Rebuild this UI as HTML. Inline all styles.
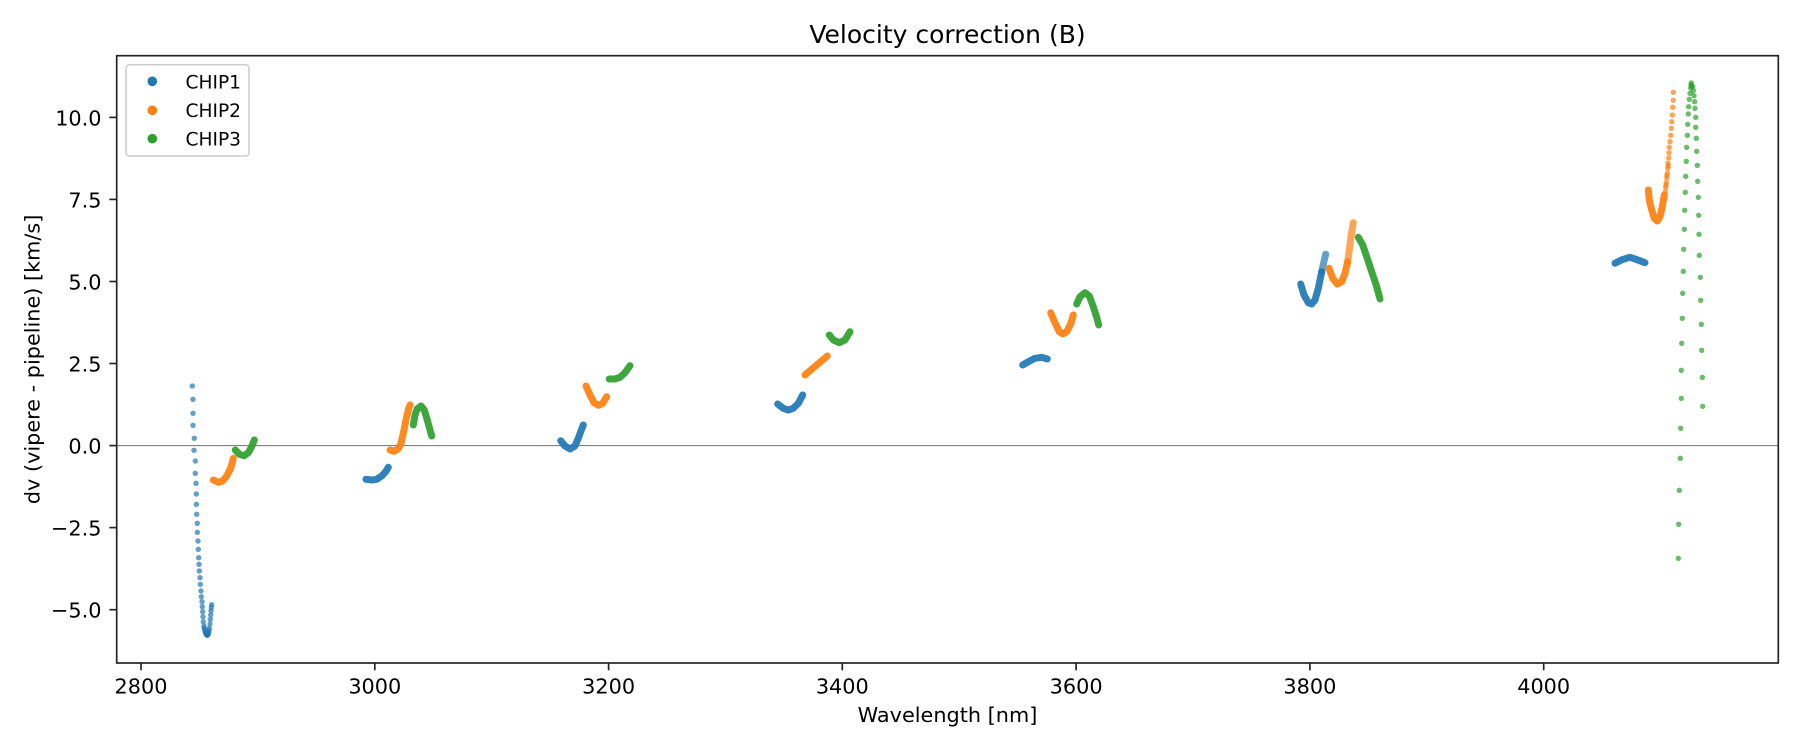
<!DOCTYPE html>
<html>
<head>
<meta charset="utf-8">
<style>
html,body{margin:0;padding:0;background:#fff;}
svg{display:block;}
text{font-family:"DejaVu Sans","Liberation Sans",sans-serif;fill:#000;}
</style>
</head>
<body>
<svg width="1800" height="750" viewBox="0 0 1800 750" xmlns="http://www.w3.org/2000/svg">
<rect x="0" y="0" width="1800" height="750" fill="#fff"/>

<!-- title -->
<text x="947.5" y="43" font-size="25" text-anchor="middle">Velocity correction (B)</text>

<!-- zero line -->
<line x1="116.7" y1="445.6" x2="1778.3" y2="445.6" stroke="#808080" stroke-width="1.1"/>

<!-- dense segments -->
<g fill="none" stroke-width="7" stroke-linecap="round" stroke-linejoin="round" stroke-opacity="0.92">
  <!-- group 1 -->
  <polyline stroke="#ff7f0e" points="213.3,480 218.3,482.3 222.7,481 226.7,476 230.7,468.3 233.3,458.3"/>
  <polyline stroke="#2ca02c" points="235.3,450 239.3,454.3 244,455.7 248.3,452.7 251.7,446.7 254.3,440"/>
  <!-- group 2 -->
  <polyline stroke="#1f77b4" points="366,479.3 371.7,480 376.7,479.3 381.7,476 386,471.3 388.3,467.3"/>
  <polyline stroke="#ff7f0e" points="390,450 394,451.3 398.3,448.7 401,443.3 403.3,433.3 406,420 408.3,410 410,405"/>
  <polyline stroke="#2ca02c" points="413.3,425 415,415 417.3,408.7 421,406 424.3,410 427.3,420 430,430 431.7,436"/>
  <!-- group 3 -->
  <polyline stroke="#1f77b4" points="560.7,440.7 565,446 570,449 575,446 578.3,438.3 580.7,431.7 583.3,425"/>
  <polyline stroke="#ff7f0e" points="586,386 590,395 594,402.7 598.3,405.3 602.7,403.3 606.7,396.7"/>
  <polyline stroke="#2ca02c" points="609.3,379 615,379 620,377.3 625,372.7 630,365.7"/>
  <!-- group 4 -->
  <polyline stroke="#1f77b4" points="777.7,404 783.3,408.3 788.3,410 793.3,408.3 798.3,403.3 802.7,395"/>
  <polyline stroke="#ff7f0e" points="805,375 816.7,365 827.3,356"/>
  <polyline stroke="#2ca02c" points="829.3,335 833.3,340 839.3,342.7 845,340 850,331.7"/>
  <!-- group 5 -->
  <polyline stroke="#1f77b4" points="1022.7,365 1028.3,361.7 1035,358.3 1041.7,357.3 1047.3,359"/>
  <polyline stroke="#ff7f0e" points="1050.7,312.7 1055,322.7 1059.3,331.7 1062.7,334 1066.7,331.7 1070.7,324 1073.3,315"/>
  <polyline stroke="#2ca02c" points="1076.7,304 1080,296.7 1085,292.7 1089.3,296 1093.3,306.7 1096.7,317.3 1098.7,325"/>
  <!-- group 6 -->
  <polyline stroke="#1f77b4" points="1300.7,284 1304,295 1308.3,302.7 1311.7,304 1315,300 1318.3,288.3 1321.7,271.7"/>
  <polyline stroke="#1f77b4" stroke-opacity="0.7" points="1321.7,271.7 1324.3,260 1325.7,254.3"/>
  <polyline stroke="#ff7f0e" points="1329,268.3 1332.7,278.3 1337.3,284 1341.7,281.7 1345,273.3 1347.7,261.7"/>
  <polyline stroke="#ff7f0e" stroke-opacity="0.7" points="1347.7,261.7 1349.3,250 1351,236.7 1353.3,222.7"/>
  <polyline stroke="#2ca02c" points="1358.3,237.3 1362.7,245 1366.7,256.7 1371.7,271.7 1376.7,286.7 1380,299"/>
  <!-- group 7 -->
  <polyline stroke="#1f77b4" points="1615,263.3 1622,259.7 1630,257.3 1637,259.7 1645,262.7"/>
  <polyline stroke="#ff7f0e" points="1648.3,190 1649.3,200 1651.7,210 1654.3,218.3 1657.3,221 1660,216.7 1662.3,206.7 1664.3,195"/>
</g>

<!-- sparse blue dots group 1 -->
<g fill="#1f77b4" fill-opacity="0.7">
<circle cx="192.3" cy="386.0" r="2.7"/><circle cx="193.0" cy="399.3" r="2.7"/><circle cx="193.0" cy="413.3" r="2.7"/>
<circle cx="193.0" cy="425.3" r="2.7"/><circle cx="194.3" cy="438.3" r="2.7"/><circle cx="194.0" cy="450.3" r="2.7"/>
<circle cx="195.3" cy="461.0" r="2.7"/><circle cx="195.3" cy="473.3" r="2.7"/><circle cx="196.0" cy="483.3" r="2.7"/>
<circle cx="196.3" cy="494.0" r="2.7"/><circle cx="196.3" cy="504.3" r="2.7"/><circle cx="196.7" cy="514.3" r="2.7"/>
<circle cx="197.3" cy="523.3" r="2.7"/><circle cx="197.3" cy="532.3" r="2.7"/><circle cx="198.0" cy="541.0" r="2.7"/>
<circle cx="198.3" cy="549.3" r="2.7"/><circle cx="198.7" cy="557.7" r="2.7"/><circle cx="199.0" cy="564.3" r="2.7"/>
<circle cx="199.3" cy="571.0" r="2.7"/><circle cx="200.0" cy="577.7" r="2.7"/><circle cx="200.3" cy="584.3" r="2.7"/>
<circle cx="201.0" cy="591.0" r="2.7"/><circle cx="201.3" cy="596.7" r="2.7"/><circle cx="202.0" cy="601.7" r="2.7"/>
<circle cx="202.3" cy="606.7" r="2.7"/><circle cx="202.7" cy="611.7" r="2.7"/><circle cx="203.0" cy="616.7" r="2.7"/>
<circle cx="203.3" cy="621.7" r="2.7"/><circle cx="204.0" cy="626.0" r="2.7"/><circle cx="204.7" cy="630.0" r="2.7"/>
<circle cx="205.7" cy="633.3" r="2.7"/><circle cx="206.7" cy="635.0" r="2.7"/><circle cx="207.7" cy="635.0" r="2.7"/>
<circle cx="208.7" cy="632.7" r="2.7"/><circle cx="209.3" cy="628.3" r="2.7"/><circle cx="210.0" cy="624.0" r="2.7"/>
<circle cx="210.3" cy="619.3" r="2.7"/><circle cx="210.7" cy="615.0" r="2.7"/><circle cx="211.0" cy="610.7" r="2.7"/>
<circle cx="211.3" cy="607.3" r="2.7"/><circle cx="211.7" cy="604.7" r="2.7"/>
<circle cx="204.2" cy="628" r="2.7"/><circle cx="205.2" cy="632" r="2.7"/><circle cx="206.2" cy="634.2" r="2.7"/>
<circle cx="207.2" cy="635.2" r="2.7"/><circle cx="208.2" cy="634" r="2.7"/><circle cx="209" cy="630.5" r="2.7"/>
</g>

<!-- sparse orange dots group 7 -->
<g fill="#ff7f0e" fill-opacity="0.7">
<circle cx="1673.3" cy="92.3" r="2.7"/><circle cx="1673.3" cy="100.3" r="2.7"/><circle cx="1672.7" cy="107.3" r="2.7"/>
<circle cx="1672.3" cy="115.0" r="2.7"/><circle cx="1671.7" cy="121.7" r="2.7"/><circle cx="1671.3" cy="128.3" r="2.7"/>
<circle cx="1670.7" cy="135.3" r="2.7"/><circle cx="1670.0" cy="141.7" r="2.7"/><circle cx="1669.3" cy="147.3" r="2.7"/>
<circle cx="1669.0" cy="152.7" r="2.7"/><circle cx="1668.7" cy="158.0" r="2.7"/><circle cx="1668.0" cy="163.3" r="2.7"/>
<circle cx="1667.7" cy="168.3" r="2.7"/><circle cx="1667.3" cy="173.3" r="2.7"/><circle cx="1666.7" cy="178.0" r="2.7"/>
<circle cx="1666.3" cy="182.7" r="2.7"/><circle cx="1665.7" cy="187.3" r="2.7"/><circle cx="1665.3" cy="191.7" r="2.7"/>
<circle cx="1668.3" cy="165.8" r="2.7"/><circle cx="1667.0" cy="175.5" r="2.7"/><circle cx="1666.0" cy="185" r="2.7"/>
</g>

<!-- sparse green dots group 7 -->
<g fill="#2ca02c" fill-opacity="0.7">
<circle cx="1691" cy="85" r="2.7"/><circle cx="1691.3" cy="83" r="2.7"/><circle cx="1690.7" cy="88" r="2.7"/><circle cx="1691.7" cy="86" r="2.7"/>
<circle cx="1690" cy="93.3" r="2.7"/><circle cx="1689.3" cy="99.3" r="2.7"/><circle cx="1688.7" cy="106.7" r="2.7"/>
<circle cx="1688.3" cy="114" r="2.7"/><circle cx="1687.7" cy="124.3" r="2.7"/><circle cx="1687.3" cy="135.3" r="2.7"/>
<circle cx="1686.7" cy="147.3" r="2.7"/><circle cx="1686.3" cy="161.3" r="2.7"/><circle cx="1685.7" cy="176.3" r="2.7"/>
<circle cx="1685.3" cy="192.3" r="2.7"/><circle cx="1684.7" cy="210.3" r="2.7"/><circle cx="1684.3" cy="229.3" r="2.7"/>
<circle cx="1683.7" cy="249.3" r="2.7"/><circle cx="1683.3" cy="271.3" r="2.7"/><circle cx="1682.7" cy="293.3" r="2.7"/>
<circle cx="1682.3" cy="318.3" r="2.7"/><circle cx="1681.7" cy="343.3" r="2.7"/><circle cx="1681.3" cy="370.3" r="2.7"/>
<circle cx="1681.3" cy="398.3" r="2.7"/><circle cx="1680.7" cy="428.3" r="2.7"/><circle cx="1680.3" cy="458.3" r="2.7"/>
<circle cx="1679.3" cy="490.3" r="2.7"/><circle cx="1678.7" cy="524.3" r="2.7"/><circle cx="1678.3" cy="558.3" r="2.7"/>
<circle cx="1692.7" cy="86.7" r="2.7"/><circle cx="1693.3" cy="90.7" r="2.7"/><circle cx="1694" cy="95.7" r="2.7"/>
<circle cx="1694.7" cy="101.7" r="2.7"/><circle cx="1695" cy="108.3" r="2.7"/><circle cx="1695.7" cy="117.3" r="2.7"/>
<circle cx="1695.7" cy="127.3" r="2.7"/><circle cx="1696.3" cy="138.3" r="2.7"/><circle cx="1696.7" cy="151.3" r="2.7"/>
<circle cx="1697.3" cy="165.3" r="2.7"/><circle cx="1697.7" cy="181.3" r="2.7"/><circle cx="1698.3" cy="197.3" r="2.7"/>
<circle cx="1698.7" cy="215.3" r="2.7"/><circle cx="1699" cy="234.3" r="2.7"/><circle cx="1699.3" cy="255.3" r="2.7"/>
<circle cx="1700.3" cy="277.3" r="2.7"/><circle cx="1700.7" cy="300.3" r="2.7"/><circle cx="1701.3" cy="324.3" r="2.7"/>
<circle cx="1701.7" cy="350.3" r="2.7"/><circle cx="1702.3" cy="377.3" r="2.7"/><circle cx="1702.7" cy="406.3" r="2.7"/>
</g>

<!-- axes frame -->
<rect x="116.7" y="55.7" width="1661.6" height="607.3" fill="none" stroke="#222" stroke-width="1.67"/>

<!-- y ticks -->
<g stroke="#222" stroke-width="1.67">
<line x1="109.4" y1="117.4" x2="116.7" y2="117.4"/>
<line x1="109.4" y1="199.4" x2="116.7" y2="199.4"/>
<line x1="109.4" y1="281.5" x2="116.7" y2="281.5"/>
<line x1="109.4" y1="363.5" x2="116.7" y2="363.5"/>
<line x1="109.4" y1="445.6" x2="116.7" y2="445.6"/>
<line x1="109.4" y1="527.6" x2="116.7" y2="527.6"/>
<line x1="109.4" y1="609.7" x2="116.7" y2="609.7"/>
</g>
<g font-size="20.8" text-anchor="end">
<text x="101.5" y="125.4">10.0</text>
<text x="101.5" y="207.4">7.5</text>
<text x="101.5" y="289.5">5.0</text>
<text x="101.5" y="371.5">2.5</text>
<text x="101.5" y="453.6">0.0</text>
<text x="101.5" y="535.6">−2.5</text>
<text x="101.5" y="617.7">−5.0</text>
</g>

<!-- x ticks -->
<g stroke="#222" stroke-width="1.67">
<line x1="141" y1="663" x2="141" y2="670.3"/>
<line x1="374.8" y1="663" x2="374.8" y2="670.3"/>
<line x1="608.6" y1="663" x2="608.6" y2="670.3"/>
<line x1="842.3" y1="663" x2="842.3" y2="670.3"/>
<line x1="1076.1" y1="663" x2="1076.1" y2="670.3"/>
<line x1="1309.9" y1="663" x2="1309.9" y2="670.3"/>
<line x1="1543.7" y1="663" x2="1543.7" y2="670.3"/>
</g>
<g font-size="20.8" text-anchor="middle">
<text x="141" y="693.3">2800</text>
<text x="374.8" y="693.3">3000</text>
<text x="608.6" y="693.3">3200</text>
<text x="842.3" y="693.3">3400</text>
<text x="1076.1" y="693.3">3600</text>
<text x="1309.9" y="693.3">3800</text>
<text x="1543.7" y="693.3">4000</text>
</g>

<!-- axis labels -->
<text x="947.5" y="722" font-size="20.8" text-anchor="middle">Wavelength [nm]</text>
<text transform="translate(39.5,359.4) rotate(-90)" font-size="20.8" text-anchor="middle">dv (vipere - pipeline) [km/s]</text>

<!-- legend -->
<rect x="126" y="64.7" width="123" height="91.3" rx="3.5" ry="3.5" fill="#fff" fill-opacity="0.8" stroke="#cccccc" stroke-width="1.5"/>
<circle cx="152.3" cy="81.3" r="4.8" fill="#1f77b4"/>
<circle cx="152.3" cy="110.3" r="4.8" fill="#ff7f0e"/>
<circle cx="152.3" cy="138.7" r="4.8" fill="#2ca02c"/>
<g font-size="18.6">
<text x="185.5" y="88.3">CHIP1</text>
<text x="185.5" y="117">CHIP2</text>
<text x="185.5" y="145.3">CHIP3</text>
</g>
</svg>
</body>
</html>
